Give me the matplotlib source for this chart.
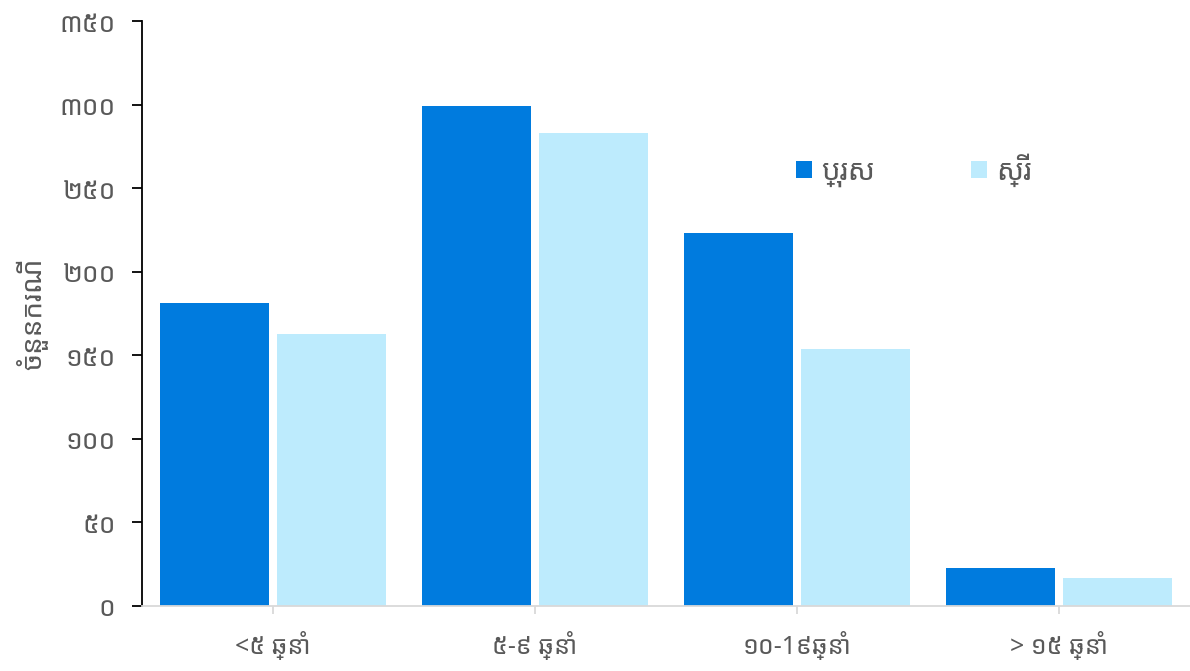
import matplotlib
matplotlib.use("Agg")
import matplotlib.pyplot as plt
import numpy as np

plt.rcParams['font.family'] = ['Noto Sans Khmer', 'DejaVu Sans']

categories = ["<៥ ឆ្នាំ", "៥-៩ ឆ្នាំ", "១០-1៩ឆ្នាំ", "> ១៥ ឆ្នាំ"]
male = [181, 299, 223, 23]
female = [163, 283, 154, 17]
yticks = [0, 50, 100, 150, 200, 250, 300, 350]
ytick_labels = ["០", "៥០", "១០០", "១៥០", "២០០", "២៥០", "៣០០", "៣៥០"]

fig = plt.figure(figsize=(11.9, 6.71), dpi=100)
ax = fig.add_axes([142 / 1190, 65 / 671, 1048 / 1190, 585 / 671])

x = np.arange(len(categories))
w = 0.416
ax.bar(x - 0.223, male, w, color="#007BDE", label="ប្រុស")
ax.bar(x + 0.223, female, w, color="#BDEBFD", label="ស្រី")

ax.set_xlim(-0.5, 3.5)
ax.set_ylim(0, 350)
ax.set_yticks(yticks)
ax.set_yticklabels(ytick_labels)
ax.set_xticks(x)
ax.set_xticklabels(categories)

for s in ["top", "right"]:
    ax.spines[s].set_visible(False)
ax.spines["left"].set_color("black")
ax.spines["left"].set_linewidth(1.3)
ax.spines["bottom"].set_color("#D9D9D9")
ax.spines["bottom"].set_linewidth(1.3)

ax.tick_params(axis="y", colors="black", labelcolor="#595959", labelsize=19,
               length=7, width=1.3, pad=12)
ax.tick_params(axis="x", colors="#D9D9D9", labelcolor="#595959", labelsize=18,
               length=6, width=1.3, pad=12)

ax.set_ylabel("ចំនួនករណី", fontsize=20, color="#595959", labelpad=8)

ax.legend(loc="center left", bbox_to_anchor=(0.599, 0.745), ncol=2, frameon=False,
          fontsize=21, labelcolor="#595959", handlelength=0.55, handleheight=0.55,
          handletextpad=0.3, columnspacing=3.3)

fig.savefig("out.png")
